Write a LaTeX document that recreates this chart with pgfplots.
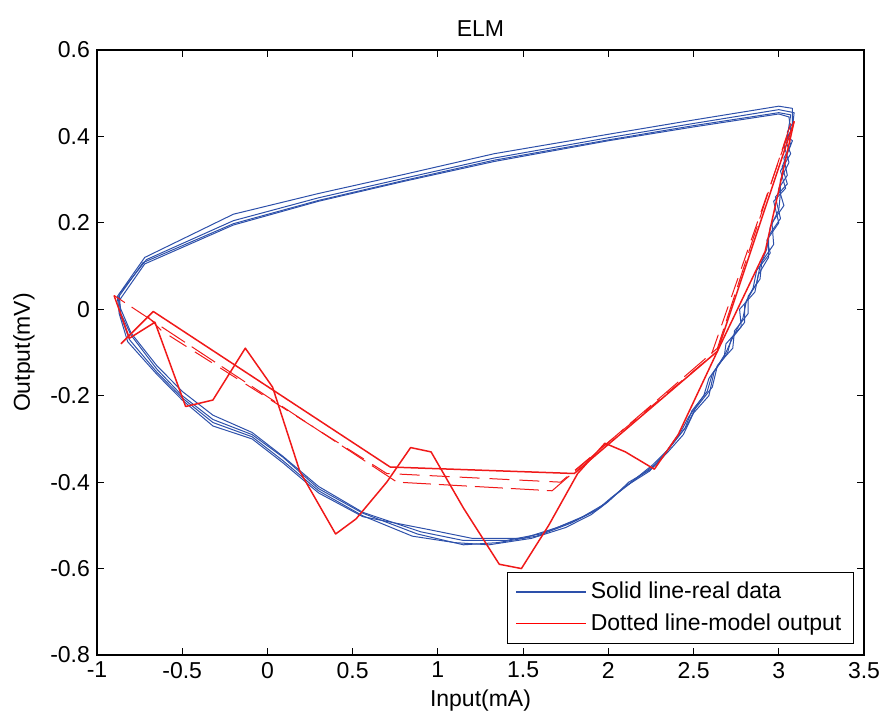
\documentclass[border=0pt]{standalone}
\usepackage{pgfplots}
\pgfplotsset{compat=1.18}
\usepackage{fontspec}
\setmainfont{Liberation Sans}
\definecolor{mblue}{RGB}{45,80,170}
\definecolor{mred}{RGB}{240,25,25}
\begin{document}
\begin{tikzpicture}[font=\fontsize{11.5}{13.5}\selectfont]
\useasboundingbox (-48.5pt,-30pt) rectangle (392pt,327.5pt);
\begin{axis}[
  scale only axis,
  width=383.5pt, height=302.5pt,
  xmin=-1, xmax=3.5, ymin=-0.8, ymax=0.6,
  xtick={-1,-0.5,0,0.5,1,1.5,2,2.5,3,3.5},
  ytick={-0.8,-0.6,-0.4,-0.2,0,0.2,0.4,0.6},
  /pgf/number format/assume math mode=true,
  /pgf/number format/fixed,
  tick align=inside, major tick length=3.5pt,
  axis line style={line width=0.8pt},
  every tick/.style={black, line width=0.6pt},
  title={ELM}, title style={yshift=-3pt},
  xlabel={Input(mA)}, ylabel={Output(mV)},
  xlabel style={yshift=1pt}, ylabel style={yshift=1pt},
  legend style={at={(0.987,0.018)}, anchor=south east, draw=black,
    line width=0.6pt, fill=white, row sep=2pt, inner xsep=4pt, inner ysep=3pt,
    font=\fontsize{11.5}{13.5}\selectfont},
  legend cell align=left,
  legend image code/.code={\draw[#1] (0pt,0pt) -- (35pt,0pt);},
  every axis plot/.append style={line join=round},
]
\addlegendimage{draw=mblue, line width=0.6pt}
\addlegendentry{Solid line-real data}
\addlegendimage{draw=red, line width=0.6pt}
\addlegendentry{Dotted line-model output}
% real data: several passes of the hysteresis loop
\addplot[mblue, line width=0.5pt, forget plot] coordinates {
(-0.88,0.03) (-0.72,0.12) (-0.2,0.22) (0.3,0.268) (0.8,0.312) (1.33,0.36) (2.0,0.405) (2.5,0.438) (3.0,0.47) (3.08,0.465) (3.08,0.43) (3.05,0.41) (3.07,0.38) (3.03,0.35) (3.05,0.31) (3.0,0.28) (3.03,0.24) (2.96,0.2) (2.97,0.15) (2.9,0.11) (2.89,0.07) (2.82,0.03) (2.82,-0.01) (2.74,-0.05) (2.73,-0.09) (2.64,-0.13) (2.61,-0.18) (2.51,-0.23) (2.46,-0.27) (2.36,-0.32) (2.29,-0.355) (2.17,-0.39) (2.04,-0.43) (1.95,-0.46) (1.8,-0.49) (1.6,-0.52) (1.4,-0.535) (1.15,-0.535) (0.9,-0.515) (0.56,-0.47) (0.3,-0.41) (0.09,-0.34) (-0.09,-0.285) (-0.32,-0.245) (-0.5,-0.19) (-0.65,-0.13) (-0.8,-0.055) (-0.86,0.0) (-0.88,0.03)};
\addplot[mblue, line width=0.5pt, forget plot] coordinates {
(-0.88,0.025) (-0.73,0.108) (-0.2,0.198) (0.3,0.252) (0.8,0.298) (1.33,0.345) (2.0,0.392) (2.5,0.425) (3.0,0.455) (3.07,0.45) (3.05,0.40) (3.08,0.39) (3.02,0.33) (3.05,0.29) (2.98,0.26) (3.01,0.21) (2.94,0.17) (2.94,0.12) (2.88,0.08) (2.86,0.04) (2.77,0.0) (2.78,-0.04) (2.69,-0.08) (2.68,-0.11) (2.59,-0.16) (2.56,-0.2) (2.47,-0.25) (2.43,-0.28) (2.33,-0.335) (2.25,-0.37) (2.12,-0.4) (2.0,-0.445) (1.9,-0.475) (1.75,-0.505) (1.55,-0.53) (1.3,-0.545) (1.1,-0.54) (0.85,-0.525) (0.56,-0.478) (0.3,-0.42) (0.09,-0.35) (-0.09,-0.295) (-0.32,-0.262) (-0.5,-0.205) (-0.65,-0.145) (-0.81,-0.07) (-0.87,-0.005) (-0.88,0.025)};
\addplot[mblue, line width=0.5pt, forget plot] coordinates {
(-0.87,0.035) (-0.71,0.115) (-0.2,0.205) (0.3,0.258) (0.8,0.303) (1.33,0.35) (2.0,0.397) (2.5,0.43) (3.0,0.462) (3.09,0.455) (3.08,0.42) (3.04,0.39) (3.07,0.36) (3.01,0.32) (3.04,0.28) (2.97,0.25) (3.0,0.2) (2.93,0.16) (2.95,0.13) (2.87,0.09) (2.85,0.05) (2.8,0.01) (2.8,-0.03) (2.72,-0.07) (2.7,-0.10) (2.61,-0.15) (2.58,-0.19) (2.49,-0.235) (2.45,-0.275) (2.35,-0.325) (2.26,-0.36) (2.15,-0.395) (2.02,-0.435) (1.93,-0.465) (1.78,-0.495) (1.58,-0.525) (1.35,-0.54) (1.15,-0.545) (0.88,-0.52) (0.56,-0.472) (0.3,-0.415) (0.09,-0.342) (-0.09,-0.29) (-0.32,-0.255) (-0.5,-0.2) (-0.65,-0.138) (-0.8,-0.06) (-0.86,-0.01) (-0.87,0.035)};
\addplot[mblue, line width=0.5pt, forget plot] coordinates {
(-0.87,0.02) (-0.72,0.105) (-0.2,0.195) (0.3,0.25) (0.8,0.296) (1.33,0.342) (2.0,0.39) (2.5,0.422) (3.0,0.452) (3.06,0.445) (3.07,0.41) (3.03,0.38) (3.06,0.34) (3.01,0.30) (3.01,0.27) (3.0,0.23) (2.95,0.19) (2.93,0.14) (2.89,0.1) (2.87,0.06) (2.81,0.02) (2.79,-0.02) (2.73,-0.065) (2.69,-0.1) (2.62,-0.145) (2.59,-0.2) (2.5,-0.24) (2.44,-0.29) (2.35,-0.33) (2.24,-0.375) (2.1,-0.41) (1.98,-0.45) (1.85,-0.48) (1.7,-0.505) (1.5,-0.53) (1.2,-0.53) (0.95,-0.51) (0.56,-0.48) (0.3,-0.425) (0.09,-0.355) (-0.09,-0.30) (-0.32,-0.27) (-0.5,-0.21) (-0.65,-0.15) (-0.82,-0.075) (-0.87,-0.01) (-0.87,0.02)};
% model output
\addplot[mred, line width=0.75pt, forget plot] coordinates {
(-0.90,0.032) (-0.81,-0.067) (-0.66,-0.03) (-0.48,-0.225) (-0.32,-0.21) (-0.13,-0.09) (0.03,-0.18) (0.19,-0.375) (0.40,-0.52) (0.52,-0.485) (0.70,-0.40) (0.84,-0.32) (0.96,-0.33) (1.15,-0.46) (1.36,-0.59) (1.49,-0.60) (1.65,-0.50) (1.82,-0.38) (1.98,-0.31) (2.10,-0.33) (2.27,-0.37) (2.41,-0.29) (2.64,-0.097) (2.92,0.134) (3.09,0.435)};
\addplot[mred, line width=0.75pt, forget plot] coordinates {
(3.09,0.435) (2.64,-0.097) (1.80,-0.38) (0.72,-0.365) (-0.67,-0.005) (-0.86,-0.08)};
\addplot[mred, line width=0.5pt, dash pattern=on 14pt off 4pt, forget plot] coordinates {
(3.07,0.43) (2.64,-0.09) (1.67,-0.42) (0.76,-0.40) (-0.90,0.032)};
\addplot[mred, line width=0.5pt, dash pattern=on 10pt off 5pt, forget plot] coordinates {
(3.05,0.40) (2.60,-0.11) (1.72,-0.40) (0.70,-0.38) (-0.62,-0.05) (-0.72,-0.01)};
\end{axis}
\end{tikzpicture}
\end{document}
